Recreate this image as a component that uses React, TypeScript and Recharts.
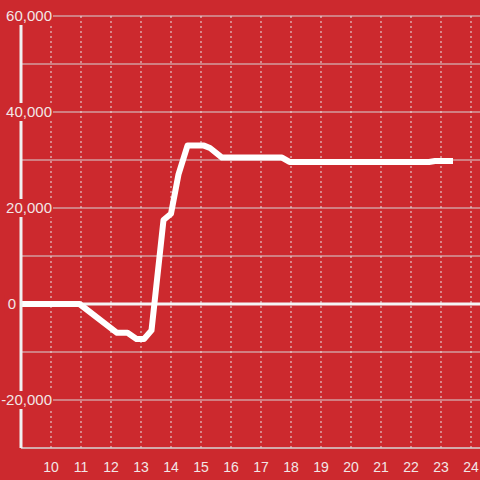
import React from "react";
import { LineChart, Line, XAxis, YAxis, CartesianGrid, ReferenceLine } from "recharts";

const times = [9, 10.95, 12.2, 12.55, 12.85, 13.1, 13.35, 13.75, 14.0, 14.25, 14.55, 15.1, 15.3, 15.7, 17.7, 17.95, 22.6, 22.8, 23.4];
const values = [0, 0, -6000, -6000, -7300, -7300, -5500, 17500, 18800, 27000, 33000, 33000, 32500, 30500, 30500, 29600, 29600, 29800, 29800];
const xTicks = [10, 11, 12, 13, 14, 15, 16, 17, 18, 19, 20, 21, 22, 23, 24];
const yTicks = [-20000, 0, 20000, 40000, 60000];
const yGrid = [-20000, -10000, 0, 10000, 20000, 30000, 40000, 50000, 60000];

const data = times.map((t, i) => ({ t, v: values[i] }));

const BG = "#cc292e";
const TXT = "#f2e6e6";

const YTick = (props: any) => {
  const { y, payload } = props;
  const label = Number(payload.value).toLocaleString("en-US");
  const w = label.length * 8.3 + 4;
  const right = payload.value === 0 ? 16 : 52;
  return (
    <g>
      <rect x={right - w + 1} y={y - 9} width={w} height={18} fill={BG} />
      <text x={right} y={y} dy="0.36em" textAnchor="end" fill={TXT} fontSize={15} fontFamily="Liberation Sans, Arial, sans-serif">
        {label}
      </text>
    </g>
  );
};

export default function App() {
  return (
    <div style={{ position: "absolute", left: 0, top: 0, width: 480, height: 480, background: BG, fontFamily: "Liberation Sans, Arial, sans-serif" }}>
      <LineChart width={480} height={480} data={data} margin={{ top: 16, right: 0, left: 0, bottom: 0 }}>
        <CartesianGrid vertical={false} stroke="#d6d6d6" strokeWidth={1} horizontalValues={yGrid} />
        <CartesianGrid horizontal={false} stroke="#e6e6e6" strokeDasharray="2 3" verticalValues={xTicks} />
        <XAxis
          dataKey="t"
          type="number"
          domain={[9, 24.3]}
          ticks={xTicks}
          allowDataOverflow
          height={32}
          tickLine={false}
          axisLine={{ stroke: "#d6d6d6", strokeWidth: 1.5 }}
          tick={{ fill: TXT, fontSize: 14 }}
          tickMargin={8}
        />
        <YAxis
          type="number"
          domain={[-30000, 60000]}
          ticks={yTicks}
          width={21}
          tickLine={false}
          axisLine={{ stroke: "#f0f0f0", strokeWidth: 3 }}
          tick={<YTick />}
        />
        <ReferenceLine y={0} stroke="#f4f4f4" strokeWidth={3} />
        <Line
          dataKey="v"
          type="linear"
          stroke="#ffffff"
          strokeWidth={6}
          strokeLinejoin="round"
          dot={false}
          isAnimationActive={false}
        />
      </LineChart>
    </div>
  );
}
